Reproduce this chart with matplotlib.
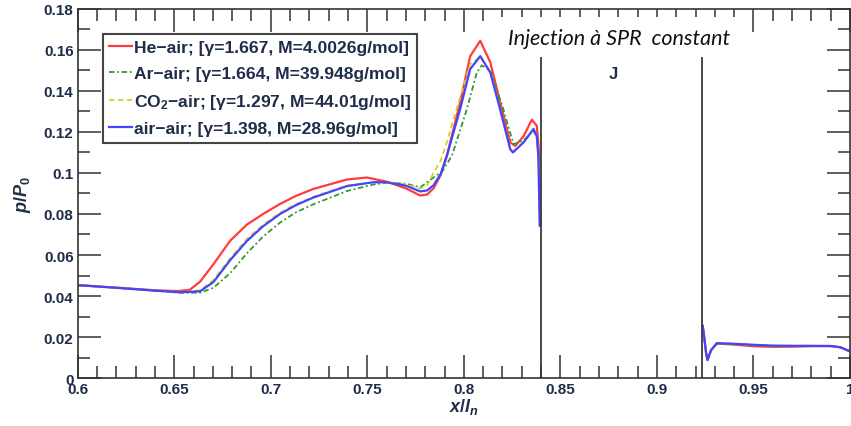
import numpy as np
import matplotlib
matplotlib.use("Agg")
import matplotlib.pyplot as plt
from matplotlib.patches import Rectangle

plt.rcParams['font.family'] = ['Liberation Sans', 'DejaVu Sans']
plt.rcParams['font.weight'] = 'bold'
plt.rcParams['mathtext.fontset'] = 'custom'
plt.rcParams['mathtext.rm'] = 'Liberation Sans:bold'
plt.rcParams['mathtext.it'] = 'Liberation Sans:italic:bold'
plt.rcParams['mathtext.bf'] = 'Liberation Sans:bold'
# inward ticks on all four sides
for a in ('xtick', 'ytick'):
    plt.rcParams[a + '.direction'] = 'in'
    plt.rcParams[a + '.major.size'] = 16.5
    plt.rcParams[a + '.minor.size'] = 8.5
    plt.rcParams[a + '.major.width'] = 1.1
    plt.rcParams[a + '.minor.width'] = 1.1
    plt.rcParams[a + '.color'] = '#333333'
    plt.rcParams[a + '.labelcolor'] = '#1f2d4a'
    plt.rcParams[a + '.labelsize'] = 11
    plt.rcParams[a + '.major.pad'] = 3
plt.rcParams['xtick.top'] = True
plt.rcParams['ytick.right'] = True
plt.rcParams['xtick.minor.visible'] = True
plt.rcParams['ytick.minor.visible'] = True

# --- data ---
labels = ["He\u2212air; [\u03b3=1.667, M=4.0026g/mol]",
          "Ar\u2212air; [\u03b3=1.664, M=39.948g/mol]",
          "CO$_2$\u2212air; [\u03b3=1.297, M=44.01g/mol]",
          "air\u2212air; [\u03b3=1.398, M=28.96g/mol]"]

he_x = [0.600, 0.620, 0.640, 0.652, 0.658, 0.6634, 0.6703, 0.679, 0.6876, 0.696, 0.7048, 0.713,
        0.722, 0.7394, 0.7497, 0.760, 0.770, 0.7774, 0.781, 0.7843, 0.788, 0.7912, 0.7981, 0.8033,
        0.8085, 0.8137, 0.8188, 0.824, 0.8266, 0.831, 0.8352, 0.8378, 0.8388, 0.8396]
he_y = [0.0453, 0.0441, 0.0428, 0.0424, 0.0430, 0.0470, 0.0555, 0.0670, 0.0748, 0.0800, 0.0849, 0.0888,
        0.0922, 0.0968, 0.0978, 0.0958, 0.0925, 0.0890, 0.0895, 0.0925, 0.0990, 0.1084, 0.1345, 0.1570,
        0.1645, 0.1540, 0.1345, 0.1150, 0.1132, 0.1180, 0.1260, 0.1230, 0.1120, 0.0745]

ar_x = [0.600, 0.620, 0.640, 0.653, 0.6634, 0.6703, 0.679, 0.6876, 0.696, 0.7048, 0.713, 0.722,
        0.7394, 0.7532, 0.760, 0.770, 0.7774, 0.7843, 0.789, 0.7938, 0.8016, 0.8067, 0.8093, 0.8137,
        0.8205, 0.8257, 0.831, 0.836, 0.8378, 0.8388, 0.8395]
ar_y = [0.0453, 0.0440, 0.0426, 0.0416, 0.0416, 0.0440, 0.0512, 0.0608, 0.0690, 0.0758, 0.0808, 0.0847,
        0.0912, 0.0944, 0.0952, 0.0948, 0.0930, 0.0978, 0.1010, 0.1084, 0.1312, 0.1490, 0.1525, 0.1500,
        0.1310, 0.1140, 0.1160, 0.1206, 0.1175, 0.1070, 0.0760]

co2_x = [0.600, 0.620, 0.640, 0.653, 0.6634, 0.6703, 0.679, 0.6876, 0.696, 0.7048, 0.713, 0.722,
         0.7394, 0.7532, 0.760, 0.770, 0.7774, 0.781, 0.7843, 0.788, 0.7912, 0.7981, 0.8033, 0.8085,
         0.8137, 0.8188, 0.824, 0.8254, 0.831, 0.8361, 0.8378, 0.8386, 0.8393]
co2_y = [0.0453, 0.0440, 0.0426, 0.0419, 0.0428, 0.0478, 0.0585, 0.0678, 0.0748, 0.0806, 0.0848, 0.0884,
         0.0938, 0.0955, 0.0954, 0.0945, 0.0925, 0.0940, 0.1000, 0.1060, 0.1150, 0.1370, 0.1530, 0.1568,
         0.1495, 0.1315, 0.1120, 0.1105, 0.1152, 0.1213, 0.1178, 0.1080, 0.0745]

air_x = [0.600, 0.620, 0.640, 0.653, 0.6634, 0.6703, 0.679, 0.6876, 0.696, 0.7048, 0.713, 0.722,
         0.7394, 0.7532, 0.760, 0.770, 0.7774, 0.781, 0.7843, 0.788, 0.7912, 0.7981, 0.8033, 0.8085,
         0.8137, 0.8188, 0.824, 0.8254, 0.831, 0.8361, 0.8378, 0.8386, 0.8393]
air_y = [0.0453, 0.0440, 0.0426, 0.0418, 0.0423, 0.0468, 0.0575, 0.0668, 0.0740, 0.0800, 0.0843, 0.0880,
         0.0936, 0.0955, 0.0955, 0.0938, 0.0910, 0.0915, 0.0940, 0.0995, 0.1084, 0.1312, 0.1507, 0.1570,
         0.1490, 0.1310, 0.1117, 0.1100, 0.1150, 0.1215, 0.1180, 0.1080, 0.0743]

# downstream of the second wall
right_x = [0.9237, 0.9245, 0.9255, 0.9262, 0.928, 0.931, 0.94, 0.95, 0.96, 0.97, 0.98, 0.99, 0.995, 1.0]
he_right = [0.0255, 0.0200, 0.0120, 0.0088, 0.0135, 0.0168, 0.0163, 0.0155, 0.0152, 0.0153, 0.0155, 0.0156, 0.0150, 0.0130]
ar_right = [0.0255, 0.0200, 0.0120, 0.0088, 0.0135, 0.0168, 0.0165, 0.0160, 0.0155, 0.0155, 0.0156, 0.0156, 0.0150, 0.0130]
co2_right = [0.0255, 0.0200, 0.0120, 0.0088, 0.0135, 0.0170, 0.0167, 0.0162, 0.0158, 0.0157, 0.0157, 0.0156, 0.0150, 0.0130]
air_right = [0.0255, 0.0200, 0.0120, 0.0088, 0.0135, 0.0170, 0.0167, 0.0162, 0.0158, 0.0157, 0.0157, 0.0156, 0.0150, 0.0130]

wall_x = [0.8398, 0.9236]
wall_top = 0.1566

xticks = [0.6, 0.65, 0.7, 0.75, 0.8, 0.85, 0.9, 0.95, 1.0]
xtick_labels = ["0.6", "0.65", "0.7", "0.75", "0.8", "0.85", "0.9", "0.95", "1"]
yticks = [0, 0.02, 0.04, 0.06, 0.08, 0.1, 0.12, 0.14, 0.16, 0.18]
ytick_labels = ["0", "0.02", "0.04", "0.06", "0.08", "0.1", "0.12", "0.14", "0.16", "0.18"]

fig = plt.figure(figsize=(8.51, 4.27), dpi=100)
ax = fig.add_axes([0.0913, 0.1124, 0.9075, 0.8642])

styles = [
    (he_x, he_y, he_right, dict(color='#ff3b3b', lw=1.6, ls='-')),
    (ar_x, ar_y, ar_right, dict(color='#2f9a2f', lw=1.3, ls=(0, (3, 1.5, 1, 1.5)))),
    (co2_x, co2_y, co2_right, dict(color='#d2d21e', lw=1.3, ls=(0, (3, 2)))),
    (air_x, air_y, air_right, dict(color='#4444ff', lw=1.6, ls='-')),
]
for (xl, yl, yr, st), lab in zip(styles, labels):
    ax.plot(xl, yl, label=lab, **st)
    ax.plot(right_x, yr, **st)

ax.vlines(wall_x, 0, wall_top, color='#3a3a3a', lw=1.3)

ax.set_xlim(0.6, 1.0)
ax.set_ylim(0, 0.18)
ax.set_xticks(xticks)
ax.set_xticklabels(xtick_labels)
ax.set_yticks(yticks)
ax.set_yticklabels(ytick_labels)
ax.set_xticks(np.arange(0.6, 1.0001, 0.01), minor=True)
ax.set_yticks(np.arange(0, 0.1801, 0.01), minor=True)
for sp in ax.spines.values():
    sp.set_linewidth(1.2)
    sp.set_color('#333333')

# white box behind the annotation (hides the top ticks there)
ax.add_patch(Rectangle((0.8147, wall_top), 0.131, 0.1761 - wall_top,
                       facecolor='white', edgecolor='none', zorder=3))
ax.text(0.8229, 0.1629, "Injection à SPR  constant", family='Lato', fontstyle='italic',
        fontweight='normal', fontsize=15.5, color='#111111', va='baseline', ha='left', zorder=4)
ax.text(0.8775, 0.1483, "J", fontsize=12, color='#1f2d4a', ha='center', va='center')

ax.set_xlabel(r'$x/l_n$', fontsize=13, color='#1f2d4a', labelpad=0)
ax.set_ylabel(r'$p/P_{\mathit{0}}$', fontsize=13, color='#1f2d4a', labelpad=8)

leg = ax.legend(loc='upper left', bbox_to_anchor=(0.0328, 0.932), fontsize=12.6,
                handlelength=1.3, handletextpad=0.1, borderpad=0.35, labelspacing=0.6,
                fancybox=False, edgecolor='#444444', framealpha=1, borderaxespad=0)
leg.get_frame().set_linewidth(1.5)
for t in leg.get_texts():
    t.set_color('#1f2d4a')

fig.savefig("out.png", dpi=100)
plt.close(fig)
